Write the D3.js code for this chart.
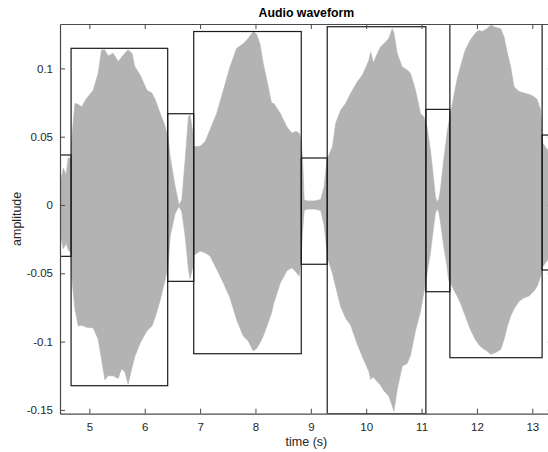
<!DOCTYPE html>
<html>
<head>
<meta charset="utf-8">
<script src="https://cdn.jsdelivr.net/npm/d3@7"></script>
<style>
  html, body { margin: 0; padding: 0; background: #fff; }
  svg { display: block; font-family: "Liberation Sans", Arial, Helvetica, sans-serif; }
</style>
</head>
<body>
<svg id="chart" width="548" height="452"></svg>
<script>
// Envelope of the recorded signal (seconds, amplitude)
const time = [4.47,4.53,4.58,4.62,4.67,
  4.68,4.74,4.80,4.86,4.95,5.07,5.16,5.22,5.28,5.34,5.43,5.52,5.58,5.64,5.70,5.77,5.82,5.92,6.04,6.13,6.19,6.28,6.37,6.42,
  6.46,6.55,6.62,6.67,6.73,6.79,6.82,6.87,
  6.88,7.00,7.09,7.18,7.30,7.42,7.54,7.66,7.78,7.87,7.96,8.02,8.08,8.14,8.23,8.29,8.33,8.45,8.57,8.66,8.73,8.79,8.82,
  8.85,8.88,8.94,9.06,9.18,9.24,9.28,
  9.31,9.39,9.45,9.54,9.63,9.72,9.84,9.93,10.05,10.08,10.13,10.17,10.26,10.32,10.41,10.47,10.50,10.56,10.65,10.74,10.80,10.89,10.98,11.04,
  11.10,11.16,11.22,11.25,11.28,11.31,11.34,11.40,11.46,11.49,
  11.52,11.58,11.64,11.70,11.79,11.88,11.97,12.03,12.09,12.18,12.25,12.34,12.43,12.49,12.55,12.61,12.67,12.76,12.85,12.94,13.03,13.09,13.15,
  13.19,13.28,13.40];
const upper = [0.015,0.027,0.022,0.035,0.033,
  0.0476,0.0745,0.0735,0.072,0.078,0.084,0.0964,0.1135,0.1135,0.109,0.111,0.105,0.108,0.111,0.1135,0.111,0.1013,0.095,0.084,0.082,0.077,0.067,0.0573,0.05,
  0.035,0.0134,0.0,0.0037,0.033,0.0646,0.066,0.0525,
  0.0427,0.043,0.0463,0.055,0.067,0.084,0.101,0.1147,0.118,0.122,0.1269,0.125,0.118,0.1037,0.0866,0.0744,0.0744,0.067,0.057,0.0525,0.054,0.0525,0.0476,
  0.035,0.0037,0.003,0.003,0.004,0.0134,0.028,
  0.035,0.0427,0.06,0.0695,0.0744,0.0818,0.0903,0.095,0.106,0.112,0.104,0.108,0.1159,0.118,0.122,0.129,0.126,0.111,0.101,0.0988,0.0964,0.084,0.067,0.0646,
  0.057,0.040,0.018,0.006,0.0024,0.004,0.011,0.033,0.0525,0.06,
  0.0659,0.0793,0.0915,0.101,0.1135,0.1208,0.1257,0.128,0.127,0.129,0.1318,0.130,0.129,0.123,0.111,0.101,0.0866,0.083,0.082,0.081,0.0793,0.077,0.0695,
  0.045,0.04,0.04];
const lower = [-0.02,-0.032,-0.028,-0.033,-0.035,
  -0.052,-0.0764,-0.0886,-0.088,-0.0895,-0.090,-0.0983,-0.113,-0.128,-0.125,-0.125,-0.127,-0.120,-0.122,-0.131,-0.119,-0.111,-0.1008,-0.092,-0.0886,-0.082,-0.0695,-0.0544,-0.0447,
  -0.0227,-0.006,-0.001,-0.005,-0.0227,-0.047,-0.054,-0.045,
  -0.037,-0.0337,-0.035,-0.0373,-0.047,-0.057,-0.068,-0.084,-0.0959,-0.0996,-0.1069,-0.105,-0.101,-0.096,-0.086,-0.079,-0.072,-0.0569,-0.048,-0.046,-0.049,-0.052,-0.04,
  -0.02,-0.004,-0.003,-0.003,-0.004,-0.015,-0.03,
  -0.04,-0.05,-0.06,-0.0745,-0.083,-0.088,-0.102,-0.111,-0.122,-0.1276,-0.126,-0.128,-0.132,-0.136,-0.14,-0.147,-0.151,-0.135,-0.118,-0.116,-0.11,-0.092,-0.078,-0.0642,
  -0.05,-0.035,-0.015,-0.006,-0.003,-0.005,-0.012,-0.03,-0.045,-0.055,
  -0.0569,-0.062,-0.0665,-0.0715,-0.0813,-0.091,-0.0983,-0.102,-0.1045,-0.1069,-0.1093,-0.108,-0.1057,-0.0983,-0.0886,-0.0813,-0.076,-0.0705,-0.068,-0.0666,-0.063,-0.0593,-0.052,
  -0.045,-0.04,-0.04];

// Segment boxes: start/end time and the peak range inside each segment
const segStart = [4.47, 4.67, 6.415, 6.885, 8.827, 9.296, 11.078, 11.511, 13.177];
const segEnd   = [4.67, 6.415, 6.885, 8.827, 9.296, 11.078, 11.511, 13.177, 13.6];
const segMax   = [0.0366, 0.1147, 0.0668, 0.127, 0.0344, 0.1305, 0.070, 0.1325, 0.0512];
const segMin   = [-0.0376, -0.1323, -0.0559, -0.1089, -0.0434, -0.1528, -0.0635, -0.1118, -0.0476];

// Axes
const xLimits = [4.47, 13.37];
const yLimits = [-0.1528, 0.1325];
const xTicks = [5, 6, 7, 8, 9, 10, 11, 12, 13];
const yTicks = [-0.15, -0.1, -0.05, 0, 0.05, 0.1];
const yTickLabels = ["-0.15", "-0.1", "-0.05", "0", "0.05", "0.1"];

const titleText = "Audio waveform";
const xLabelText = "time (s)";
const yLabelText = "amplitude";

const margin = { left: 60, top: 24 };
const plotW = 492.8, plotH = 389.7;

const svg = d3.select("#chart");
const x = d3.scaleLinear().domain(xLimits).range([margin.left, margin.left + plotW]);
const y = d3.scaleLinear().domain(yLimits).range([margin.top + plotH, margin.top]);

svg.append("defs").append("clipPath").attr("id", "plotClip")
  .append("rect")
  .attr("x", margin.left).attr("y", margin.top)
  .attr("width", plotW).attr("height", plotH);

const plot = svg.append("g").attr("clip-path", "url(#plotClip)");

// Waveform envelope
const wave = time.map((t, i) => ({ t, hi: upper[i], lo: lower[i] }));
plot.append("path")
  .datum(wave)
  .attr("fill", "#b3b3b3")
  .attr("stroke", "#b3b3b3")
  .attr("stroke-width", 0.6)
  .attr("d", d3.area().x(d => x(d.t)).y0(d => y(d.lo)).y1(d => y(d.hi)).curve(d3.curveLinear));

// Segment boxes
const segs = segStart.map((s, i) => ({ s, e: segEnd[i], hi: segMax[i], lo: segMin[i] }));
plot.selectAll("rect.seg")
  .data(segs)
  .join("rect")
  .attr("class", "seg")
  .attr("x", d => x(d.s))
  .attr("y", d => y(d.hi))
  .attr("width", d => x(d.e) - x(d.s))
  .attr("height", d => y(d.lo) - y(d.hi))
  .attr("fill", "none")
  .attr("stroke", "#1a1a1a")
  .attr("stroke-width", 1.2);

// Axes (ticks pointing inward, box on all four sides)
const axisColor = "#4a4a4a";
const labelColor = "#262626";
function styleAxis(g) {
  g.select(".domain").attr("stroke", axisColor).attr("stroke-width", 1.2);
  g.selectAll(".tick line").attr("stroke", axisColor).attr("stroke-width", 1);
  g.selectAll(".tick text").attr("fill", labelColor).style("font-size", "11.5px")
    .style("font-family", '"Liberation Sans", Arial, Helvetica, sans-serif');
}

svg.append("g")
  .attr("transform", `translate(0,${margin.top + plotH})`)
  .call(d3.axisBottom(x).tickValues(xTicks).tickSize(-5).tickSizeOuter(0).tickPadding(9).tickFormat(d3.format("d")))
  .call(styleAxis);

svg.append("g")
  .attr("transform", `translate(0,${margin.top})`)
  .call(d3.axisTop(x).tickValues(xTicks).tickSize(-5).tickSizeOuter(0).tickFormat(""))
  .call(styleAxis);

svg.append("g")
  .attr("transform", `translate(${margin.left},0)`)
  .call(d3.axisLeft(y).tickValues(yTicks).tickSize(-5).tickSizeOuter(0).tickPadding(7)
    .tickFormat((d, i) => yTickLabels[i]))
  .call(styleAxis);

svg.append("g")
  .attr("transform", `translate(${margin.left + plotW},0)`)
  .call(d3.axisRight(y).tickValues(yTicks).tickSize(-5).tickSizeOuter(0).tickFormat(""))
  .call(styleAxis);

// Title and axis labels
svg.append("text")
  .attr("x", margin.left + plotW / 2).attr("y", 17)
  .attr("text-anchor", "middle")
  .style("font-size", "12.3px").style("font-weight", "bold")
  .attr("fill", "#000")
  .text(titleText);

svg.append("text")
  .attr("x", margin.left + plotW / 2).attr("y", 446)
  .attr("text-anchor", "middle")
  .style("font-size", "12.5px")
  .attr("fill", labelColor)
  .text(xLabelText);

svg.append("text")
  .attr("transform", `translate(21,${margin.top + plotH / 2}) rotate(-90)`)
  .attr("text-anchor", "middle")
  .style("font-size", "12.5px")
  .attr("fill", labelColor)
  .text(yLabelText);
</script>
</body>
</html>
